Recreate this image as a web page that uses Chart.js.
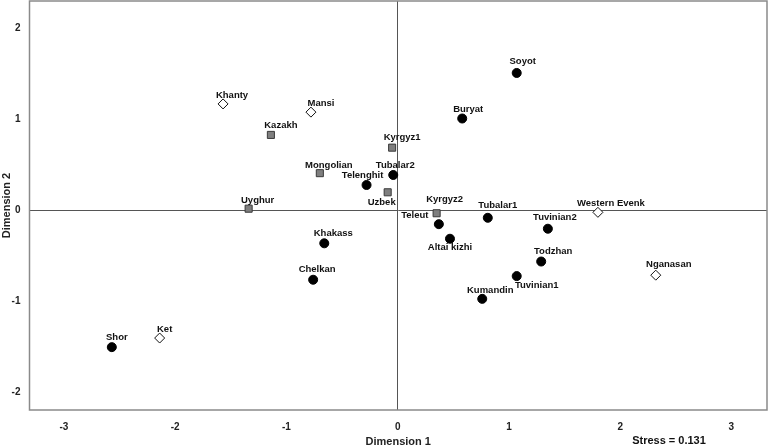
<!DOCTYPE html>
<html>
<head>
<meta charset="utf-8">
<script src="https://cdn.jsdelivr.net/npm/chart.js@4"></script>
<style>
  html, body { margin: 0; padding: 0; background: #fff; }
  #wrap { width: 769px; height: 447px; }
</style>
</head>
<body>
<div id="wrap"><canvas id="mds"></canvas></div>
<script>
// Turkic-speaking populations (filled circles)
const circleNames = ['Soyot', 'Buryat', 'Tubalar2', 'Telenghit', 'Teleut', 'Tubalar1', 'Tuvinian2', 'Altai kizhi',
  'Khakass', 'Todzhan', 'Chelkan', 'Tuvinian1', 'Kumandin', 'Shor'];
const circleX = [1.07, 0.58, -0.04, -0.28, 0.37, 0.81, 1.35, 0.47, -0.66, 1.29, -0.76, 1.07, 0.76, -2.57];
const circleY = [1.51, 1.01, 0.39, 0.28, -0.15, -0.08, -0.20, -0.31, -0.36, -0.56, -0.76, -0.72, -0.97, -1.50];

// grey squares
const squareNames = ['Kazakh', 'Kyrgyz1', 'Mongolian', 'Uzbek', 'Uyghur', 'Kyrgyz2'];
const squareX = [-1.14, -0.05, -0.70, -0.09, -1.34, 0.35];
const squareY = [0.83, 0.69, 0.41, 0.20, 0.02, -0.03];

// open diamonds
const diamondNames = ['Khanty', 'Mansi', 'Western Evenk', 'Nganasan', 'Ket'];
const diamondX = [-1.57, -0.78, 1.80, 2.32, -2.14];
const diamondY = [1.17, 1.08, -0.02, -0.71, -1.40];

const xTicks = [-3, -2, -1, 0, 1, 2, 3];
const yTicks = [-2, -1, 0, 1, 2];
const stressText = 'Stress = 0.131';

// where each label sits relative to its marker (px)
const labelPos = {
  'Soyot': [6, -12], 'Buryat': [6, -9], 'Khanty': [9, -9], 'Mansi': [10, -9], 'Kazakh': [10, -10],
  'Kyrgyz1': [10, -10], 'Mongolian': [9, -8], 'Tubalar2': [2, -10], 'Telenghit': [-4, -10],
  'Uzbek': [-6, 10], 'Uyghur': [9, -8], 'Kyrgyz2': [8, -14], 'Teleut': [-24, -9], 'Tubalar1': [10, -12],
  'Western Evenk': [13, -9], 'Tuvinian2': [7, -11], 'Altai kizhi': [0, 9], 'Khakass': [9, -10],
  'Todzhan': [12, -10], 'Chelkan': [4, -10], 'Nganasan': [13, -11], 'Tuvinian1': [20, 9],
  'Kumandin': [8, -8], 'Shor': [5, -10], 'Ket': [5, -9]
};

function pts(names, xs, ys) {
  return names.map((n, i) => ({ x: xs[i], y: ys[i], name: n }));
}

const FONT = "'Liberation Sans', Arial, sans-serif";

// frame round the plot + point labels + stress note
const extras = {
  id: 'extras',
  afterDatasetsDraw(chart) {
    const ctx = chart.ctx;
    const a = chart.chartArea;
    ctx.save();
    ctx.strokeStyle = '#8a8a8a';
    ctx.lineWidth = 1.5;
    ctx.strokeRect(a.left, a.top, a.right - a.left, a.bottom - a.top);

    ctx.font = 'bold 9.5px ' + FONT;
    ctx.fillStyle = '#111';
    ctx.textAlign = 'center';
    ctx.textBaseline = 'middle';
    chart.data.datasets.forEach((ds, di) => {
      const meta = chart.getDatasetMeta(di);
      meta.data.forEach((el, i) => {
        const name = ds.data[i].name;
        const off = labelPos[name] || [0, -10];
        ctx.fillText(name, el.x + off[0], el.y + off[1]);
      });
    });

    ctx.font = 'bold 11px ' + FONT;
    ctx.fillText(stressText, a.right - 98, chart.height - 6);
    ctx.restore();
  }
};

const zeroLine = (c) => c.tick && c.tick.value === 0 ? '#555' : 'rgba(0,0,0,0)';

function noPad(s) {
  s.paddingTop = 0; s.paddingBottom = 0; s.paddingLeft = 0; s.paddingRight = 0;
}

new Chart(document.getElementById('mds'), {
  type: 'scatter',
  data: {
    datasets: [
      {
        label: 'circles',
        data: pts(circleNames, circleX, circleY),
        pointStyle: 'circle',
        pointRadius: 4.5,
        backgroundColor: '#000',
        borderColor: '#000',
        borderWidth: 1
      },
      {
        label: 'squares',
        data: pts(squareNames, squareX, squareY),
        pointStyle: 'rect',
        pointRadius: 5,
        backgroundColor: '#7f7f7f',
        borderColor: '#3a3a3a',
        borderWidth: 1
      },
      {
        label: 'diamonds',
        data: pts(diamondNames, diamondX, diamondY),
        pointStyle: 'rectRot',
        pointRadius: 5,
        backgroundColor: '#fff',
        borderColor: '#111',
        borderWidth: 1
      }
    ]
  },
  options: {
    responsive: true,
    maintainAspectRatio: false,
    animation: false,
    layout: { autoPadding: false, padding: { left: 0, top: 1, right: 2, bottom: 0 } },
    plugins: { legend: { display: false }, tooltip: { enabled: false } },
    scales: {
      x: {
        min: -3.31,
        max: 3.32,
        afterBuildTicks: (s) => { s.ticks = xTicks.map(v => ({ value: v })); },
        afterFit: (s) => { s.height = 37; noPad(s); },
        grid: { color: zeroLine, lineWidth: 1, drawTicks: false },
        border: { display: false },
        ticks: { padding: 11, color: '#222', font: { family: FONT, size: 10, weight: 'bold' } },
        title: {
          display: true, text: 'Dimension 1', color: '#222',
          padding: { top: 0, bottom: 0 },
          font: { family: FONT, size: 11, weight: 'bold', lineHeight: 1.0 }
        }
      },
      y: {
        min: -2.19,
        max: 2.30,
        afterBuildTicks: (s) => { s.ticks = yTicks.map(v => ({ value: v })); },
        afterFit: (s) => { s.width = 29.5; noPad(s); },
        grid: { color: zeroLine, lineWidth: 1, drawTicks: false },
        border: { display: false },
        ticks: { padding: 9, color: '#222', font: { family: FONT, size: 10, weight: 'bold' } },
        title: {
          display: true, text: 'Dimension 2', color: '#222',
          padding: { top: 1, bottom: 0 },
          font: { family: FONT, size: 11, weight: 'bold', lineHeight: 1.0 }
        }
      }
    }
  },
  plugins: [extras]
});
</script>
</body>
</html>
